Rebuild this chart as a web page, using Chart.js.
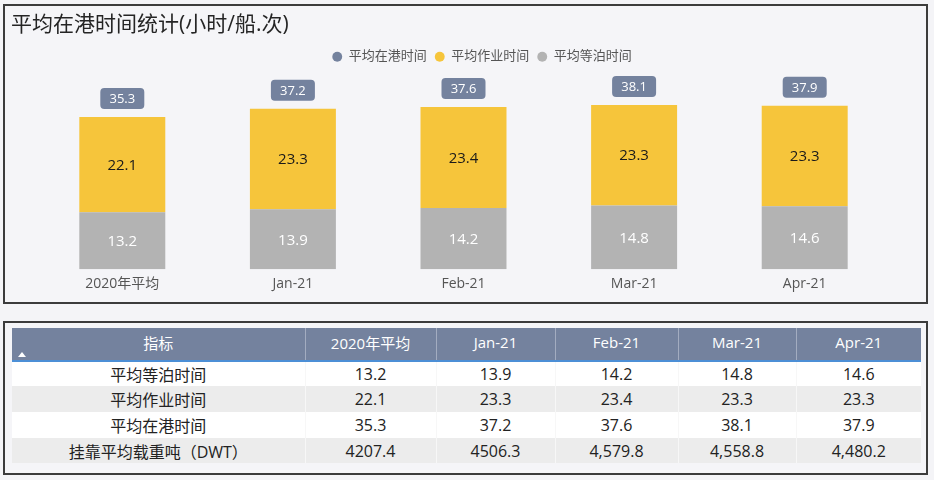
<!DOCTYPE html>
<html>
<head>
<meta charset="utf-8">
<script src="https://cdn.jsdelivr.net/npm/chart.js@4/dist/chart.umd.min.js"></script>
<style>
html,body{margin:0;padding:0;background:#f4f4f7;width:934px;height:480px;overflow:hidden;
  font-family:'Open Sans','Noto Sans CJK SC',sans-serif;}
#chartBox{position:absolute;left:3px;top:4px;width:921px;height:296px;border:2px solid #3c3c3c;background:#f5f5f8;}
#chartWrap{position:absolute;left:0;top:0;width:921px;height:296px;}
#tableBox{position:absolute;left:3px;top:321px;width:921px;height:150px;border:2px solid #3c3c3c;background:#f5f5f8;}
#tbl{position:absolute;left:7px;top:5px;width:909px;border-collapse:collapse;table-layout:fixed;}
#tbl th{background:#74829e;color:#fff;font-weight:normal;font-size:15px;height:33px;padding:0 0 4px 0;
  border-bottom:2px solid #4c8fd6;border-left:1px solid #a3acc0;text-align:center;position:relative;box-sizing:border-box;}
#tbl th:first-child{border-left:none;}
#tbl td{font-size:16px;color:#222;text-align:center;padding:0;border-left:1px solid #f7f7f7;}
#tbl td:first-child{border-left:none;}
#tbl tr.r0 td{background:#ffffff;}
#tbl tr.r1 td{background:#ececec;}
.tri{position:absolute;left:6px;top:24px;width:0;height:0;border-left:4.5px solid transparent;border-right:4.5px solid transparent;border-bottom:5px solid #fff;}
</style>
</head>
<body>
<div id="chartBox"><div id="chartWrap"><canvas id="c"></canvas></div></div>
<div id="tableBox"><table id="tbl"></table></div>
<script>
// ---- data ----
const categories = ['2020年平均', 'Jan-21', 'Feb-21', 'Mar-21', 'Apr-21'];
const waitTime = [13.2, 13.9, 14.2, 14.8, 14.6];     // 平均等泊时间
const workTime = [22.1, 23.3, 23.4, 23.3, 23.3];     // 平均作业时间
const portTime = [35.3, 37.2, 37.6, 38.1, 37.9];     // 平均在港时间
const dwtLabels = ['4207.4', '4506.3', '4,579.8', '4,558.8', '4,480.2']; // 挂靠平均载重吨
const seriesNames = ['平均等泊时间', '平均作业时间', '平均在港时间'];
const tableTitle = '指标';
const dwtName = '挂靠平均载重吨（DWT）';
const chartTitle = '平均在港时间统计(小时/船.次)';

const C_GRAY = '#b3b3b3', C_YELLOW = '#f6c53b', C_SLATE = '#74829e';
const FONT = "'Open Sans','Noto Sans CJK SC',sans-serif";
Chart.defaults.font.family = FONT;

// ---- table ----
(function buildTable(){
  const t = document.getElementById('tbl');
  const widths = [293, 131, 119, 123, 118, 125];
  let html = '<colgroup>' + widths.map(w => '<col style="width:' + w + 'px">').join('') + '</colgroup>';
  html += '<tr><th>' + tableTitle + '<span class="tri"></span></th>' + categories.map(c => '<th>' + c + '</th>').join('') + '</tr>';
  const rows = [
    [seriesNames[0], waitTime.map(v => v.toFixed(1))],
    [seriesNames[1], workTime.map(v => v.toFixed(1))],
    [seriesNames[2], portTime.map(v => v.toFixed(1))],
    [dwtName, dwtLabels]
  ];
  const hs = [25, 26, 26, 25];
  rows.forEach((r, i) => {
    html += '<tr class="r' + (i % 2) + '" style="height:' + hs[i] + 'px"><td>' + r[0] + '</td>' + r[1].map(v => '<td>' + v + '</td>').join('') + '</tr>';
  });
  t.innerHTML = html;
})();

// ---- plugins ----
const legendShift = {
  id: 'legendShift',
  afterLayout(chart) {
    const lg = chart.legend;
    if (lg) { lg.left += 31.5; lg.right += 31.5; lg.top -= 2; lg.bottom -= 2; }
  }
};

const labelPlugin = {
  id: 'labelPlugin',
  afterDatasetsDraw(chart) {
    const ctx = chart.ctx;
    ctx.save();
    ctx.textAlign = 'center';
    ctx.textBaseline = 'middle';
    [0, 1].forEach(di => {
      const meta = chart.getDatasetMeta(di);
      const ds = chart.data.datasets[di];
      meta.data.forEach((el, i) => {
        const yc = (el.y + el.base) / 2;
        ctx.font = '15px ' + FONT;
        ctx.fillStyle = di === 0 ? '#ffffff' : '#1a1a1a';
        ctx.fillText(ds.data[i].toFixed(1), el.x, yc + 1);
      });
    });
    const tm = chart.getDatasetMeta(2);
    const tds = chart.data.datasets[2];
    tm.data.forEach((pt, i) => {
      const txt = tds.data[i].toFixed(1);
      ctx.font = '13px ' + FONT;
      const w = 44, h = 21;
      const x = pt.x - w / 2, y = pt.y - 8 - h;
      ctx.fillStyle = C_SLATE;
      ctx.beginPath();
      ctx.roundRect(x, y, w, h, 4);
      ctx.fill();
      ctx.fillStyle = '#ffffff';
      ctx.fillText(txt, pt.x, y + h / 2 + 0.5);
    });
    ctx.restore();
  }
};

new Chart(document.getElementById('c'), {
  type: 'bar',
  data: {
    labels: categories,
    datasets: [
      { label: seriesNames[0], data: waitTime, backgroundColor: C_GRAY, borderWidth: 0, stack: 's', order: 2 },
      { label: seriesNames[1], data: workTime, backgroundColor: C_YELLOW, borderWidth: 0, stack: 's', order: 2 },
      { label: seriesNames[2], data: portTime, type: 'line', showLine: false, pointRadius: 0, pointHoverRadius: 0,
        pointBorderWidth: 0, borderWidth: 0, backgroundColor: C_SLATE, borderColor: C_SLATE, stack: 'total', order: 1 }
    ]
  },
  options: {
    responsive: true,
    maintainAspectRatio: false,
    animation: false,
    events: [],
    datasets: { bar: { categoryPercentage: 1, barPercentage: 0.504 } },
    layout: { padding: { left: 6, right: 36, top: 2, bottom: 4 } },
    plugins: {
      title: {
        display: true, text: chartTitle, align: 'start', color: '#252525',
        font: { size: 21, weight: 'normal', family: FONT }, padding: { top: 4, bottom: 7 }
      },
      legend: {
        display: true, position: 'top', align: 'center',
        labels: {
          usePointStyle: true, pointStyle: 'circle', boxWidth: 10, boxHeight: 7, padding: 8,
          color: '#555', font: { size: 13, family: FONT },
          sort: (a, b) => b.datasetIndex - a.datasetIndex
        }
      },
      tooltip: { enabled: false }
    },
    scales: {
      x: {
        stacked: true,
        grid: { display: false, drawTicks: false },
        border: { display: false },
        ticks: { color: '#555', font: { size: 14, family: FONT }, padding: 6 }
      },
      y: {
        stacked: true, min: 0, max: 45, display: true,
        grid: { display: false, drawTicks: false },
        border: { display: false },
        ticks: { display: false },
        afterFit: (s) => { s.width = 26; }
      }
    }
  },
  plugins: [legendShift, labelPlugin]
});
</script>
</body>
</html>
